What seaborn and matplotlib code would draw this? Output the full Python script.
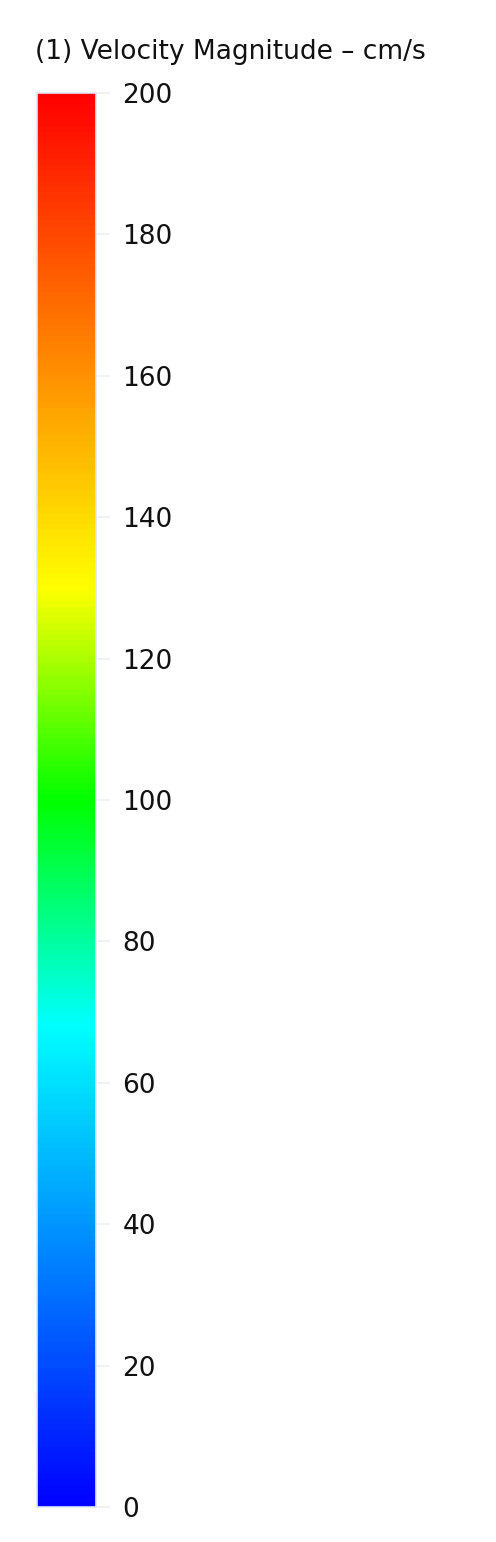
import numpy as np
import pandas as pd
import matplotlib
matplotlib.use("Agg")
import matplotlib.pyplot as plt
import seaborn as sns
from matplotlib.colors import LinearSegmentedColormap

# ---- data ----
title = "(1) Velocity Magnitude \u2013 cm/s"
vmin, vmax = 0, 200
tick_values = [0, 20, 40, 60, 80, 100, 120, 140, 160, 180, 200]
tick_labels = ["0", "20", "40", "60", "80", "100", "120", "140", "160", "180", "200"]
stop_values = [0, 68, 100, 130, 200]
stop_colors = ["#0000ff", "#00ffff", "#00ff00", "#ffff00", "#ff0000"]
gradient_values = np.linspace(vmin, vmax, 512)

sns.set_theme(style="white")
plt.rcParams["font.family"] = ["DejaVu Sans"]

cmap = LinearSegmentedColormap.from_list(
    "vel", [((v - vmin) / (vmax - vmin), c) for v, c in zip(stop_values, stop_colors)]
)

W, H = 496, 1542
fig = plt.figure(figsize=(W / 100, H / 100), dpi=100)
fig.patch.set_facecolor("white")

# colorbar axes in pixel placement
left, right, top, bottom = 37, 96, 93, 1507
cax = fig.add_axes([left / W, 1 - bottom / H, (right - left) / W, (bottom - top) / H])
hidden = fig.add_axes([0.9, 0.0, 0.01, 0.01])

df = pd.DataFrame({"v": gradient_values})
sns.heatmap(df, ax=hidden, cmap=cmap, vmin=vmin, vmax=vmax, cbar=True, cbar_ax=cax)
hidden.set_visible(False)

cb = hidden.collections[0].colorbar
cb.set_ticks(tick_values)
cb.set_ticklabels(tick_labels)
cb.outline.set_edgecolor("#dfe6f5")
cb.outline.set_linewidth(1.2)
cax.yaxis.set_ticks_position("right")
cax.tick_params(axis="y", length=10, width=1.2, color="#f0f0f4", pad=9,
                labelsize=19, labelcolor="#111111")

fig.text(35 / W, 1 - 52 / H, title, ha="left", va="center", fontsize=19, color="#111111")

fig.savefig("out.png", dpi=100, facecolor="white")
